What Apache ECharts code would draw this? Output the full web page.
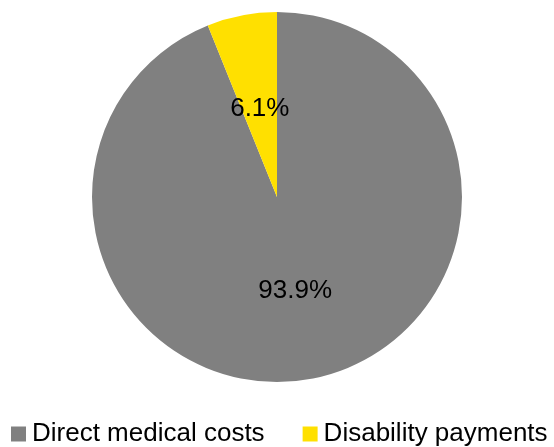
<!DOCTYPE html>
<html><head><meta charset="utf-8">
<script src="https://cdn.jsdelivr.net/npm/echarts@6/dist/echarts.min.js"></script>
<style>html,body{margin:0;padding:0;background:#fff}#c{width:554px;height:447px}</style>
</head><body><div id="c"></div>
<script>
var categories = ['Direct medical costs', 'Disability payments'];
var values = [93.9, 6.1];
var colors = ['#808080', '#FFE000'];
var chart = echarts.init(document.getElementById('c'), null, {renderer: 'canvas'});
chart.setOption({
  animation: false,
  color: colors,
  legend: {
    data: categories,
    left: 11, top: 421, padding: 0,
    itemWidth: 15, itemHeight: 15, itemGap: 38,
    icon: 'rect',
    textStyle: {fontSize: 26, color: '#000', fontFamily: 'Liberation Sans, Arial, sans-serif', padding: [0,0,0,1]}
  },
  series: [{
    type: 'pie',
    center: [277, 197],
    radius: 185,
    startAngle: 90,
    clockwise: true,
    avoidLabelOverlap: false,
    label: {
      show: true, position: 'inside',
      formatter: function(p){ return p.value.toFixed(1) + '%'; },
      fontSize: 26, color: '#000', fontFamily: 'Liberation Sans, Arial, sans-serif'
    },
    labelLine: {show: false},
    itemStyle: {borderWidth: 0},
    emphasis: {disabled: true},
    data: categories.map(function(n, i){
      var d = {name: n, value: values[i]};
      if (i === 1) d.label = {offset: [1, 6]};
      return d;
    })
  }]
});
</script></body></html>
